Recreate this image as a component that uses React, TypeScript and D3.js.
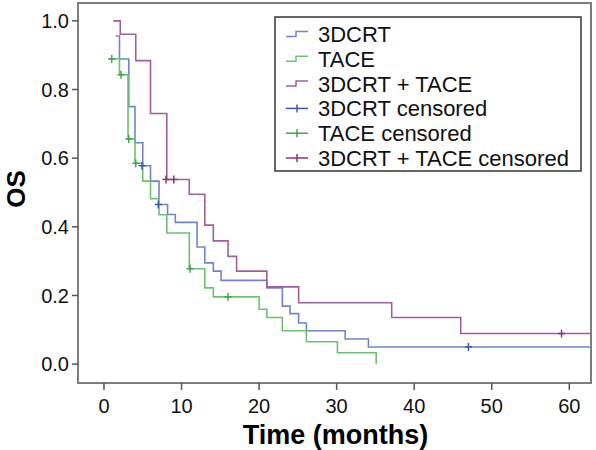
import React from "react";
import * as d3 from "d3";

// ---- data ----
const xTicks = [0, 10, 20, 30, 40, 50, 60];
const yTicks = [0, 0.2, 0.4, 0.6, 0.8, 1.0];

const months3DCRT = [1.5, 2.0, 3.2, 4.0, 5.0, 6.0, 7.1, 8.2, 9.2, 12.0, 13.0, 14.1, 15.1, 21.0, 23.0, 24.0, 25.1, 26.1, 31.1, 34.1, 62.8];
const os3DCRT = [0.956, 0.889, 0.75, 0.645, 0.578, 0.533, 0.465, 0.436, 0.413, 0.341, 0.295, 0.271, 0.244, 0.222, 0.169, 0.147, 0.12, 0.097, 0.073, 0.05, 0.05];

const monthsTACE = [0.6, 2.0, 3.1, 4.0, 5.0, 6.0, 7.1, 8.1, 11.0, 13.0, 14.1, 20.0, 21.0, 23.0, 26.1, 30.1, 35.1];
const osTACE = [0.889, 0.843, 0.656, 0.585, 0.533, 0.482, 0.435, 0.382, 0.278, 0.222, 0.196, 0.16, 0.136, 0.097, 0.065, 0.033, 0.0];

const monthsCombo = [1.2, 2.1, 4.1, 6.0, 8.1, 11.0, 13.0, 14.1, 16.0, 17.1, 21.0, 25.1, 37.1, 46.0, 62.8];
const osCombo = [1.0, 0.961, 0.884, 0.73, 0.538, 0.495, 0.405, 0.359, 0.314, 0.271, 0.225, 0.179, 0.136, 0.089, 0.089];

const censorMonths3DCRT = [4.9, 7.0, 47.0];
const censorOs3DCRT = [0.578, 0.465, 0.05];
const censorMonthsTACE = [1.0, 2.2, 3.2, 4.1, 11.1, 16.0];
const censorOsTACE = [0.889, 0.843, 0.656, 0.585, 0.278, 0.196];
const censorMonthsCombo = [8.0, 9.0, 59.0];
const censorOsCombo = [0.538, 0.538, 0.089];

const legendLabels = ["3DCRT", "TACE", "3DCRT + TACE", "3DCRT censored", "TACE censored", "3DCRT + TACE censored"];

const series = [
  { months: months3DCRT, os: os3DCRT, cm: censorMonths3DCRT, cs: censorOs3DCRT, line: "#7185c6", mark: "#4057b0" },
  { months: monthsTACE, os: osTACE, cm: censorMonthsTACE, cs: censorOsTACE, line: "#6cc272", mark: "#3fa64c" },
  { months: monthsCombo, os: osCombo, cm: censorMonthsCombo, cs: censorOsCombo, line: "#a05e9f", mark: "#86347f" },
];

const W = 596;
const H = 450;
const left = 78, right = 591, top = 3, bottom = 383;
const FONT = "'Liberation Sans', Arial, sans-serif";

export default function App() {
  const x = d3.scaleLinear().domain([-3.35, 62.8]).range([left, right]);
  const y = d3.scaleLinear().domain([-0.055, 1.052]).range([bottom, top]);
  const line = d3
    .line<[number, number]>()
    .x((d) => x(d[0]))
    .y((d) => y(d[1]))
    .curve(d3.curveStepAfter);

  const legX = 275, legY = 17, legW = 306, legH = 154;
  const rowY = (i: number) => 34 + i * 24.8;

  return (
    <svg
      width={W}
      height={H}
      style={{ position: "absolute", left: 0, top: 0, background: "#fff" }}
      fontFamily={FONT}
    >
      {/* frame */}
      <rect x={left} y={top} width={right - left} height={bottom - top} fill="#fff" stroke="#7d7d7d" strokeWidth={2} />

      {/* curves */}
      {series.map((s, i) => (
        <path
          key={"l" + i}
          d={line(s.months.map((m, j) => [m, s.os[j]] as [number, number])) || ""}
          fill="none"
          stroke={s.line}
          strokeWidth={1.6}
        />
      ))}
      {series.map((s, i) =>
        s.cm.map((m, j) => (
          <g key={"c" + i + "-" + j} stroke={s.mark} strokeWidth={1.5}>
            <line x1={x(m)} x2={x(m)} y1={y(s.cs[j]) - 4} y2={y(s.cs[j]) + 4} />
            <line x1={x(m) - 3.5} x2={x(m) + 3.5} y1={y(s.cs[j])} y2={y(s.cs[j])} />
          </g>
        ))
      )}

      {/* y axis */}
      {yTicks.map((t) => (
        <g key={"y" + t}>
          <line x1={left - 6} x2={left} y1={y(t)} y2={y(t)} stroke="#555" strokeWidth={1.5} />
          <text x={left - 9} y={y(t)} dy="0.36em" textAnchor="end" fontSize={20} fill="#111">
            {t.toFixed(1)}
          </text>
        </g>
      ))}
      {/* x axis */}
      {xTicks.map((t) => (
        <g key={"x" + t}>
          <line x1={x(t)} x2={x(t)} y1={bottom} y2={bottom + 7} stroke="#555" strokeWidth={1.5} />
          <text x={x(t)} y={413} textAnchor="middle" fontSize={20} fill="#111">
            {t}
          </text>
        </g>
      ))}

      <text x={(left + right) / 2 + 1} y={444} textAnchor="middle" fontSize={27} fontWeight="bold" fill="#000">
        Time (months)
      </text>
      <text
        transform={`translate(25, 189) rotate(-90)`}
        textAnchor="middle"
        fontSize={26}
        fontWeight="bold"
        fill="#000"
      >
        OS
      </text>

      {/* legend */}
      <rect x={legX} y={legY} width={legW} height={legH} fill="#fff" stroke="#333" strokeWidth={1.5} />
      {legendLabels.map((lab, i) => {
        const cy = rowY(i);
        const s = series[i % 3];
        const isStep = i < 3;
        return (
          <g key={"lg" + i}>
            {isStep ? (
              <path
                d={`M286,${cy + 2.5} H296 V${cy - 2.5} H308`}
                fill="none"
                stroke={s.line}
                strokeWidth={1.5}
              />
            ) : (
              <g stroke={s.mark} strokeWidth={1.5}>
                <line x1={286} x2={308} y1={cy} y2={cy} />
                <line x1={297} x2={297} y1={cy - 4} y2={cy + 4} />
              </g>
            )}
            <text x={318} y={cy} dy="0.36em" fontSize={22} fill="#111">
              {lab}
            </text>
          </g>
        );
      })}
    </svg>
  );
}
